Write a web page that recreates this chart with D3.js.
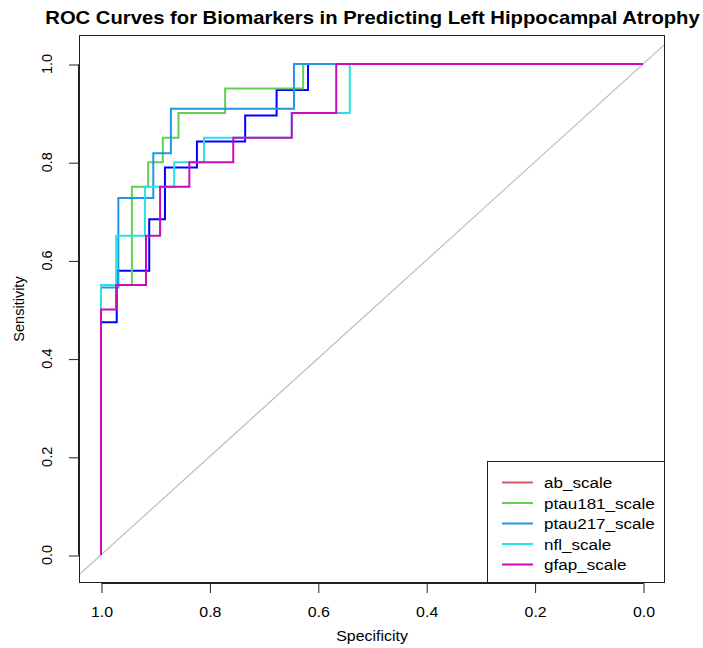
<!DOCTYPE html>
<html><head><meta charset="utf-8">
<script src="https://cdn.jsdelivr.net/npm/d3@7"></script>
<style>html,body{margin:0;padding:0;background:#fff}svg{display:block}text{font-family:"Liberation Sans",Arial,Helvetica,sans-serif}</style>
</head><body><div id="chart"></div>
<script>
// ---------- data ----------
const title = "ROC Curves for Biomarkers in Predicting Left Hippocampal Atrophy";
const xTicks = [1.0, 0.8, 0.6, 0.4, 0.2, 0.0];
const yTicks = [0.0, 0.2, 0.4, 0.6, 0.8, 1.0];
const legendLabels = ["ab_scale", "ptau181_scale", "ptau217_scale", "nfl_scale", "gfap_scale"];
const legendColors = ["#DF536B", "#61D04F", "#2297E6", "#28E2E5", "#CD0BBC"];

// step corners: specificity where sensitivity jumps, and the new sensitivity
const abSpec  = [1, 1, 0.971, 0.911, 0.882, 0.823, 0.734, 0.676, 0.618, 0];
const abSens  = [0, 0.474, 0.579, 0.684, 0.789, 0.842, 0.895, 0.947, 1.0, 1.0];
const p181Spec = [1, 1, 0.943, 0.913, 0.886, 0.857, 0.771, 0.627, 0];
const p181Sens = [0, 0.55, 0.75, 0.80, 0.85, 0.90, 0.95, 1.0, 1.0];
const p217Spec = [1, 1, 0.968, 0.9035, 0.871, 0.644, 0];
const p217Sens = [0, 0.545, 0.727, 0.818, 0.909, 1.0, 1.0];
const nflSpec = [1, 1, 0.972, 0.919, 0.865, 0.810, 0.648, 0.541, 0];
const nflSens = [0, 0.55, 0.65, 0.75, 0.80, 0.85, 0.90, 1.0, 1.0];
const gfapSpec = [1, 1, 0.972, 0.917, 0.891, 0.837, 0.756, 0.648, 0.566, 0];
const gfapSens = [0, 0.50, 0.55, 0.65, 0.75, 0.80, 0.85, 0.90, 1.0, 1.0];

const curves = [
  {name: "ab_scale", spec: abSpec, sens: abSens, color: "#0000FF"},
  {name: "ptau181_scale", spec: p181Spec, sens: p181Sens, color: "#61D04F"},
  {name: "ptau217_scale", spec: p217Spec, sens: p217Sens, color: "#2297E6"},
  {name: "nfl_scale", spec: nflSpec, sens: nflSens, color: "#28E2E5"},
  {name: "gfap_scale", spec: gfapSpec, sens: gfapSens, color: "#CD0BBC"}
];

// ---------- layout ----------
const W = 703, H = 648;
const box = {left: 79, right: 665, top: 35, bottom: 583};
const x = d3.scaleLinear().domain([1, 0]).range([101, 643]);
const y = d3.scaleLinear().domain([0, 1]).range([555, 64]);
const SX = 1.1; // horizontal stretch of text in the picture

const svg = d3.select("#chart").append("svg").attr("width", W).attr("height", H);

svg.append("defs").append("clipPath").attr("id", "clip")
  .append("rect").attr("x", box.left).attr("y", box.top)
  .attr("width", box.right - box.left).attr("height", box.bottom - box.top);

function stretchedText(g, tx, ty, str, size, weight, anchor) {
  return g.append("text")
    .attr("transform", `translate(${tx},${ty}) scale(${SX},1)`)
    .attr("text-anchor", anchor || "middle")
    .attr("font-size", size).attr("font-weight", weight || "normal")
    .attr("fill", "#000").text(str);
}

// title
stretchedText(svg, 372.5, 24, title, 18.4, "bold");

// diagonal
const plot = svg.append("g").attr("clip-path", "url(#clip)");
const xl = x.invert(box.left), xr = x.invert(box.right);
plot.append("line")
  .attr("x1", x(xl)).attr("y1", y(1 - xl))
  .attr("x2", x(xr)).attr("y2", y(1 - xr))
  .attr("stroke", "#BEBEBE").attr("stroke-width", 1.2);

// curves
const line = d3.line().x(d => x(d[0])).y(d => y(d[1])).curve(d3.curveStepAfter);
curves.forEach(c => {
  const pts = c.spec.map((s, i) => [s, c.sens[i]]);
  plot.append("path").attr("d", line(pts)).attr("fill", "none")
    .attr("stroke", c.color).attr("stroke-width", 2);
});

// box
svg.append("rect").attr("x", box.left + 0.5).attr("y", box.top + 0.5)
  .attr("width", box.right - box.left - 1).attr("height", box.bottom - box.top - 1)
  .attr("fill", "none").attr("stroke", "#222").attr("stroke-width", 1);

// x axis
const xAxis = svg.append("g").attr("transform", `translate(0,${box.bottom})`)
  .call(d3.axisBottom(x).tickValues(xTicks).tickSize(10).tickFormat(d3.format(".1f")));
xAxis.select(".domain").attr("d", `M${x(1) + 0.5},0.5H${x(0) + 0.5}`).attr("stroke", "#222");
xAxis.selectAll(".tick line").attr("stroke", "#222").attr("transform", "translate(0.5,0)");
xAxis.selectAll(".tick text").remove();
xTicks.forEach(t => stretchedText(svg, x(t) + 1, 617, d3.format(".1f")(t), 14.5));

// y axis
const yAxis = svg.append("g").attr("transform", `translate(${box.left},0)`)
  .call(d3.axisLeft(y).tickValues(yTicks).tickSize(10).tickFormat(d3.format(".1f")));
yAxis.select(".domain").attr("d", `M-0.5,${y(0) + 0.5}V${y(1) + 0.5}`).attr("stroke", "#222");
yAxis.selectAll(".tick line").attr("stroke", "#222").attr("transform", "translate(0,0.5)");
yAxis.selectAll(".tick text").remove();
yTicks.forEach(t => {
  svg.append("text").attr("transform", `translate(52,${y(t)}) rotate(-90)`)
    .attr("text-anchor", "middle").attr("font-size", 14.5).attr("fill", "#000")
    .text(d3.format(".1f")(t));
});

// axis titles
stretchedText(svg, (box.left + box.right) / 2, 641, "Specificity", 14.5);
svg.append("text").attr("transform", `translate(24,${(box.top + box.bottom) / 2}) rotate(-90)`)
  .attr("text-anchor", "middle").attr("font-size", 14.5).attr("fill", "#000").text("Sensitivity");

// legend
const lg = {left: 487, top: 461, right: box.right, bottom: box.bottom};
svg.append("rect").attr("x", lg.left + 0.5).attr("y", lg.top + 0.5)
  .attr("width", lg.right - lg.left - 1).attr("height", lg.bottom - lg.top - 1)
  .attr("fill", "#fff").attr("stroke", "#222");
const rowY = d3.scaleLinear().domain([0, 4]).range([482.5, 564.5]);
legendLabels.forEach((lab, i) => {
  svg.append("line").attr("x1", 502).attr("x2", 533)
    .attr("y1", rowY(i)).attr("y2", rowY(i))
    .attr("stroke", legendColors[i]).attr("stroke-width", 2);
  stretchedText(svg, 544, rowY(i) + 5.5, lab, 15.5, "normal", "start");
});
</script></body></html>
